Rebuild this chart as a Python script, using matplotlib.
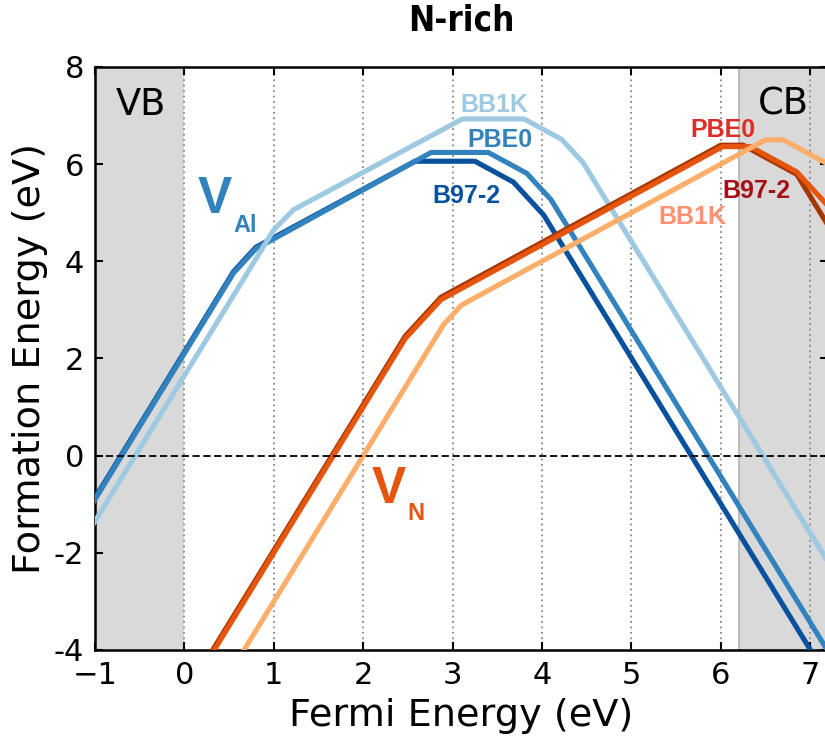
import matplotlib
matplotlib.use("Agg")
import matplotlib.pyplot as plt

# formation energy of the vacancies vs Fermi level, N-rich limit
# V_Al
val_b972_x = [-1.1, 0.55, 0.8, 2.58, 3.25, 3.68, 4.02, 7.5]
val_b972_y = [-1.17, 3.79, 4.29, 6.06, 6.06, 5.63, 4.95, -5.49]
val_pbe0_x = [-1.1, 0.55, 0.8, 2.76, 3.40, 3.83, 4.1, 7.5]
val_pbe0_y = [-1.2, 3.76, 4.26, 6.24, 6.24, 5.81, 5.27, -4.93]
val_bb1k_x = [-1.1, 1.0, 1.22, 3.11, 3.80, 4.22, 4.46, 7.5]
val_bb1k_y = [-1.65, 4.65, 5.06, 6.93, 6.93, 6.51, 6.03, -3.09]

# V_N
vn_b972_x = [0.0, 2.47, 2.87, 6.0, 6.25, 6.85, 7.5]
vn_b972_y = [-4.95, 2.46, 3.26, 6.39, 6.39, 5.79, 3.84]
vn_pbe0_x = [0.0, 2.47, 2.87, 6.02, 6.33, 6.85, 7.5]
vn_pbe0_y = [-5.0, 2.41, 3.21, 6.36, 6.36, 5.84, 4.54]
vn_bb1k_x = [0.3, 2.9, 3.1, 6.5, 6.7, 7.5]
vn_bb1k_y = [-5.1, 2.7, 3.1, 6.5, 6.5, 5.7]

vbm = 0.0
cbm = 6.2
xticks = [-1, 0, 1, 2, 3, 4, 5, 6, 7]
yticks = [-4, -2, 0, 2, 4, 6, 8]
ytick_labels = ["-4", "-2", "0", "2", "4", "6", "8"]

fig = plt.figure(figsize=(8.25, 7.49), dpi=100)
ax = fig.add_axes([0.1152, 0.1322, 0.8885, 0.7784])

ax.axvspan(-1.5, vbm, color="#d9d9d9", lw=0, zorder=0)
ax.axvspan(cbm, 8, facecolor="#d9d9d9", edgecolor="#bdbdbd", lw=1.5, zorder=0)
for x in range(0, 8):
    ax.axvline(x, color="#888888", ls=(0, (1, 2)), lw=1.3, zorder=1)
ax.axhline(0, color="black", ls=(0, (4, 2)), lw=1.3, zorder=10)

lw = 3.7
ax.plot(val_b972_x, val_b972_y, color="#08519c", lw=lw, zorder=3)
ax.plot(val_pbe0_x, val_pbe0_y, color="#3182bd", lw=lw, zorder=3)
ax.plot(val_bb1k_x, val_bb1k_y, color="#9ecae1", lw=lw, zorder=3)
ax.plot(vn_b972_x, vn_b972_y, color="#a63603", lw=lw, zorder=4)
ax.plot(vn_pbe0_x, vn_pbe0_y, color="#e6550d", lw=lw, zorder=4)
ax.plot(vn_bb1k_x, vn_bb1k_y, color="#fdae6b", lw=lw, zorder=4)

lab = dict(family=["Liberation Sans", "DejaVu Sans"], fontweight="bold",
           fontsize=18, ha="center", va="baseline", zorder=6)
ax.text(3.47, 7.08, "BB1K", color="#9ecae1", **lab)
ax.text(3.53, 6.36, "PBE0", color="#3182bd", **lab)
ax.text(3.15, 5.21, "B97-2", color="#08519c", **lab)
ax.text(6.02, 6.56, "PBE0", color="#de2d26", **lab)
ax.text(6.40, 5.31, "B97-2", color="#a50f15", **lab)
ax.text(5.68, 4.77, "BB1K", color="#fc9272", **lab)

big = dict(family=["Liberation Sans", "DejaVu Sans"], fontweight="bold",
           ha="left", va="baseline", zorder=6)
ax.text(0.15, 5.0, "V", color="#3182bd", fontsize=37, **big)
ax.text(0.55, 4.61, "Al", color="#3182bd", fontsize=17, **big)
ax.text(2.09, -0.97, "V", color="#e6550d", fontsize=37, **big)
ax.text(2.49, -1.32, "N", color="#e6550d", fontsize=17, **big)

ax.text(-0.77, 7.02, "VB", fontsize=26.5, va="baseline", ha="left", zorder=6)
ax.text(6.42, 7.02, "CB", fontsize=26.5, va="baseline", ha="left", zorder=6)

ax.set_xlim(-1, 7.2)
ax.set_ylim(-4, 8)
ax.set_xticks(xticks)
ax.set_yticks(yticks)
ax.set_yticklabels(ytick_labels)
ax.tick_params(direction="in", length=6, width=1.5, labelsize=22, pad=8,
               top=True, right=True)
for s in ax.spines.values():
    s.set_linewidth(1.8)

ax.set_xlabel("Fermi Energy (eV)", fontsize=27.5, labelpad=6)
ax.set_ylabel("Formation Energy (eV)", fontsize=27.5, labelpad=4)

fig.text(0.559, 0.972, "N-rich", fontsize=25, fontweight="bold",
         fontstretch="condensed", family="DejaVu Sans",
         ha="center", va="center")

fig.savefig("out.png", dpi=100)
